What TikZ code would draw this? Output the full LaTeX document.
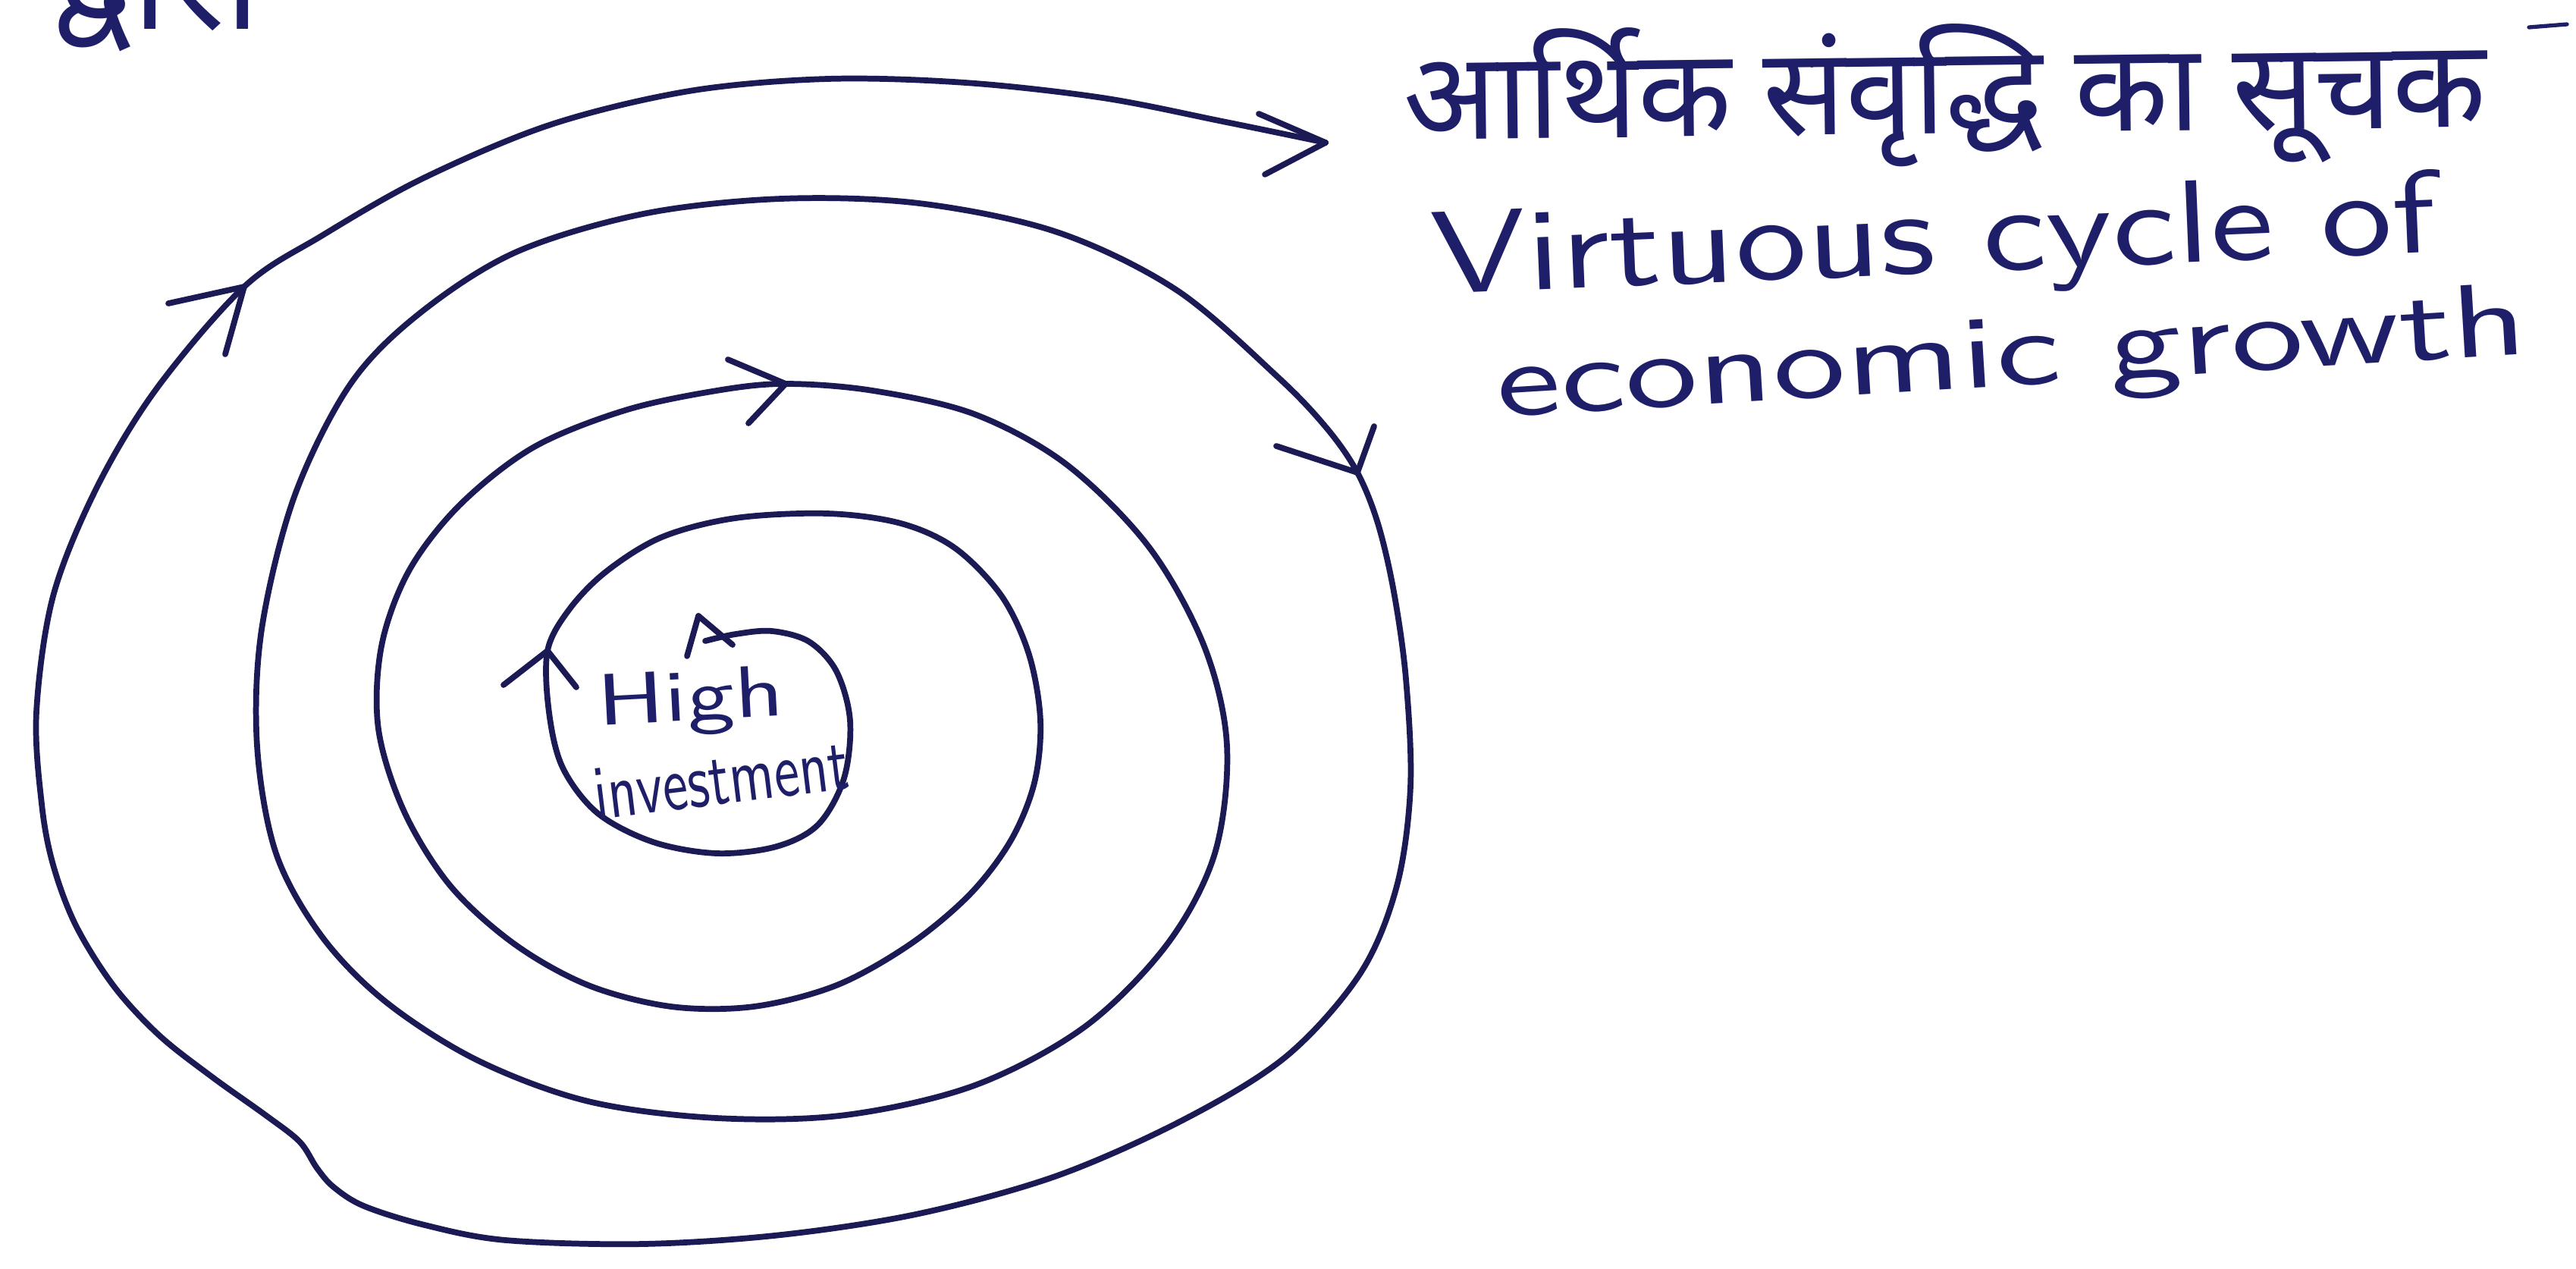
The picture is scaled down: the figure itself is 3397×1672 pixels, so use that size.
\documentclass[tikz,border=0pt]{standalone}
\usepackage{fontspec}
\usepackage{graphicx}
\newfontfamily\hindifont[Script=Devanagari]{Noto Sans}
\definecolor{ink}{RGB}{28,26,84}
\definecolor{txtink}{RGB}{30,30,105}
\tikzset{
  spiralline/.style={draw=ink, line width=2.2pt, line cap=round, line join=round},
  barb/.style={draw=ink, line width=2.2pt, line cap=round},
  lbl/.style={inner sep=0pt, text=txtink},
}
\begin{document}
\begin{tikzpicture}[x=0.01cm,y=-0.01cm]
\fill[white] (0,0) rectangle (3397,1672);
\useasboundingbox (0,0) rectangle (3397,1672);

% spiral
\draw[spiralline] plot[smooth, tension=0.55] coordinates {
 (930,845) (970,836) (1018,832) (1067,846) (1103,885) (1121,950) (1113,1026)
 (1079,1087) (1024,1116) (945,1125) (861,1110) (788,1072) (742,1012) (724,939)
 (722,858) (751,803) (800,753) (873,708) (970,683) (1091,677) (1188,690)
 (1260,723) (1321,786) (1357,863) (1372,950) (1364,1032) (1333,1108) (1279,1179)
 (1200,1245) (1103,1299) (994,1327) (885,1327) (776,1299) (679,1245) (594,1168)
 (533,1070) (499,961) (503,852) (539,753) (606,666) (703,590) (824,541) (945,515)
 (1036,506) (1151,515) (1285,546) (1406,612) (1515,721) (1588,852) (1618,983)
 (1602,1125) (1539,1245) (1430,1354) (1285,1431) (1115,1470) (945,1474) (776,1452)
 (630,1398) (509,1321) (424,1234) (364,1125) (339,983) (345,830) (388,655)
 (461,508) (551,415) (679,333) (848,282) (1030,262) (1212,268) (1394,306)
 (1551,382) (1685,497) (1750,565) (1790,623) (1817,690) (1838,780) (1854,895)
 (1860,1037) (1842,1168) (1794,1283) (1697,1392) (1563,1475) (1394,1550)
 (1212,1600) (1030,1628) (848,1640) (667,1635) (560,1615) (480,1590) (440,1565)
 (418,1540) (395,1505) (350,1470) (280,1420) (210,1365) (150,1300) (100,1220)
 (70,1140) (55,1060) (48,939) (70,786) (127,644) (206,513) (322,378) (424,311)
 (558,235) (727,164) (909,120) (1091,104) (1273,109) (1454,129) (1612,160)
 (1748,188)};

% arrowheads
\coordinate (a0) at (921,812);
\draw[barb] (a0) -- (906,865); \draw[barb] (a0) -- (966,850);
\coordinate (a1) at (722,858);
\draw[barb] (a1) -- (664,903); \draw[barb] (a1) -- (760,906);
\coordinate (a2) at (1036,506);
\draw[barb] (a2) -- (960,474); \draw[barb] (a2) -- (987,558);
\coordinate (a3) at (1790,623);
\draw[barb] (a3) -- (1683,588); \draw[barb] (a3) -- (1812,562);
\coordinate (a4) at (322,378);
\draw[barb] (a4) -- (222,400); \draw[barb] (a4) -- (297,467);
\coordinate (a5) at (1748,188);
\draw[barb] (a5) -- (1660,150); \draw[barb] (a5) -- (1668,230);

% texts
\node[lbl, anchor=base west] (dw) at (69,38) {\resizebox{78pt}{!}{\hindifont द्वारा}};
\node[lbl, anchor=base, rotate=0.7] (hi) at (2565,176) {\resizebox{406pt}{!}{\hindifont आर्थिक संवृद्धि का सूचक}};
\node[lbl, anchor=base, rotate=2.4] (vc) at (2552,360) {\resizebox{377pt}{31pt}{\sffamily Virtuous cycle of}};
\node[lbl, anchor=base, rotate=3.5] (eg) at (2655,508) {\resizebox{387pt}{27pt}{\sffamily economic growth}};
\node[lbl, anchor=base, rotate=3] (high) at (912,950) {\resizebox{70pt}{19pt}{\sffamily High}};
\node[lbl, anchor=base, rotate=7] (inv) at (955,1060) {\resizebox{96pt}{19pt}{\sffamily investment}};
\draw[draw=txtink, line width=1.5pt, line cap=round] (3335,36) -- (3385,32);
\end{tikzpicture}
\end{document}
